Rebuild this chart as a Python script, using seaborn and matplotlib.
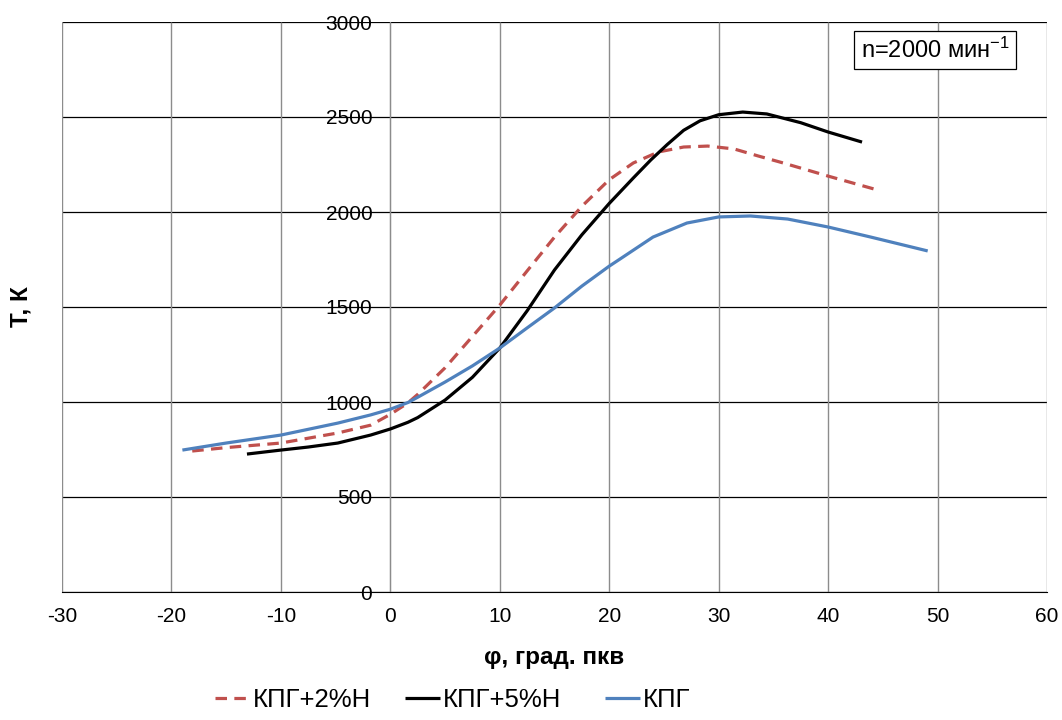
import numpy as np
import pandas as pd
import matplotlib
matplotlib.use("Agg")
import matplotlib.pyplot as plt
import seaborn as sns

# --- data ---
x_h2 = [-18.1, -15, -10, -4.8, -1.8, 0, 1.6, 2.5, 5, 7.5, 10, 12.5, 15, 17.5, 20,
        22.2, 24.5, 26.8, 29, 31.4, 33.6, 35.9, 40, 44.2]
t_h2 = [742, 760, 784, 837, 878, 935, 995, 1040, 1180, 1345, 1510, 1690, 1868, 2030, 2170,
        2258, 2316, 2342, 2347, 2332, 2295, 2258, 2189, 2121]

x_h5 = [-13.1, -10, -7.5, -4.8, -1.8, 0, 1.6, 2.5, 5, 7.5, 10, 12.5, 15, 17.5, 20,
        22.2, 23.8, 25.3, 26.8, 28.3, 30, 32.2, 34.4, 37.5, 40, 43.1]
t_h5 = [726, 747, 763, 784, 826, 858, 893, 918, 1010, 1130, 1284, 1480, 1695, 1880, 2045,
        2179, 2274, 2355, 2430, 2480, 2512, 2526, 2516, 2470, 2421, 2368]

x_cng = [-19, -15, -10, -4.8, -1.8, 0, 1.6, 2.5, 5, 7.5, 10, 12.5, 15, 17.5, 20,
         21, 24, 27.1, 30, 32.9, 36.3, 40, 43.9, 49.1]
t_cng = [747, 784, 826, 889, 932, 962, 997, 1025, 1105, 1190, 1284, 1390, 1495, 1610, 1715,
         1753, 1868, 1942, 1974, 1979, 1963, 1921, 1868, 1795]

labels = ["КПГ+2%Н", "КПГ+5%Н", "КПГ"]
x_ticks = [-30, -20, -10, 0, 10, 20, 30, 40, 50, 60]
y_ticks = [0, 500, 1000, 1500, 2000, 2500, 3000]

df = pd.concat([
    pd.DataFrame({"phi": x_h2, "T": t_h2, "fuel": labels[0]}),
    pd.DataFrame({"phi": x_h5, "T": t_h5, "fuel": labels[1]}),
    pd.DataFrame({"phi": x_cng, "T": t_cng, "fuel": labels[2]}),
], ignore_index=True)

sns.set_style("white")
plt.rcParams["font.family"] = ["Liberation Sans", "DejaVu Sans"]
plt.rcParams["mathtext.fontset"] = "custom"
plt.rcParams["mathtext.rm"] = "Liberation Sans"
plt.rcParams["mathtext.it"] = "Liberation Sans"
for k in ["text.color", "axes.labelcolor", "xtick.color", "ytick.color"]:
    plt.rcParams[k] = "black"
plt.rcParams["lines.solid_capstyle"] = "butt"

fig = plt.figure(figsize=(10.62, 7.2), dpi=100)
ax = fig.add_axes([62/1062, 1-592/720, (1047-62)/1062, (592-22)/720])

palette = {labels[0]: "#C0504D", labels[1]: "#000000", labels[2]: "#4F81BD"}
dashes = {labels[0]: (3.6, 2.3), labels[1]: "", labels[2]: ""}
sns.lineplot(data=df, x="phi", y="T", hue="fuel", style="fuel", palette=palette,
             dashes=dashes, hue_order=labels, style_order=labels,
             estimator=None, sort=False, linewidth=2.3, legend=False, ax=ax, zorder=3)
for ln in ax.get_lines():
    ln.set_solid_joinstyle("round")
    ln.set_dash_joinstyle("round")

ax.set_xlim(-30, 60)
ax.set_ylim(0, 3000)
ax.set_xticks(x_ticks)
ax.set_yticks(y_ticks)
ax.set_xticklabels([str(v) for v in x_ticks])
ax.set_yticklabels([str(v) for v in y_ticks])

# grid: horizontal black, vertical grey
for y in y_ticks:
    ax.axhline(y, color="black", linewidth=0.9, zorder=1)
for x in x_ticks:
    ax.axvline(x, color="#8c8c8c", linewidth=1.0, zorder=1)

ax.spines["left"].set_position(("data", 0))
ax.spines["left"].set_color("#8c8c8c")
ax.spines["left"].set_zorder(2)
ax.spines["bottom"].set_color("black")
ax.spines["top"].set_visible(False)
ax.spines["right"].set_visible(False)
ax.tick_params(axis="y", direction="out", length=0, pad=13, labelsize=15, labelcolor="black")
ax.tick_params(axis="x", direction="out", length=5, color="black", pad=6, labelsize=15,
               labelcolor="black")
for lbl in ax.get_yticklabels():
    lbl.set_zorder(4)

ax.set_xlabel("φ, град. пкв", fontsize=17.5, fontweight="bold", labelpad=14, color="black")
ax.set_ylabel("")
fig.text(21/1062, 1-307/720, "Т, К", rotation=90, fontsize=17.5, fontweight="bold",
         ha="center", va="center", color="black")

ax.text((935-62)/985, (592-50)/570, "n=2000 мин$^{-1}$", transform=ax.transAxes, fontsize=17,
        ha="center", va="center", zorder=5, color="black",
        bbox=dict(boxstyle="square,pad=0.28", facecolor="white", edgecolor="black", linewidth=0.9))

# legend: three entries placed like the reference (equal-width columns)
handles = ax.get_lines()[:3]
for h, lab, xpx in zip(handles, labels, [215, 405, 605]):
    fig.legend([h], [lab], loc="center left", bbox_to_anchor=(xpx/1062, 1-700/720),
               frameon=False, fontsize=18.5, handlelength=1.36, handletextpad=0.1,
               borderpad=0, borderaxespad=0)

fig.savefig("out.png", dpi=100)
